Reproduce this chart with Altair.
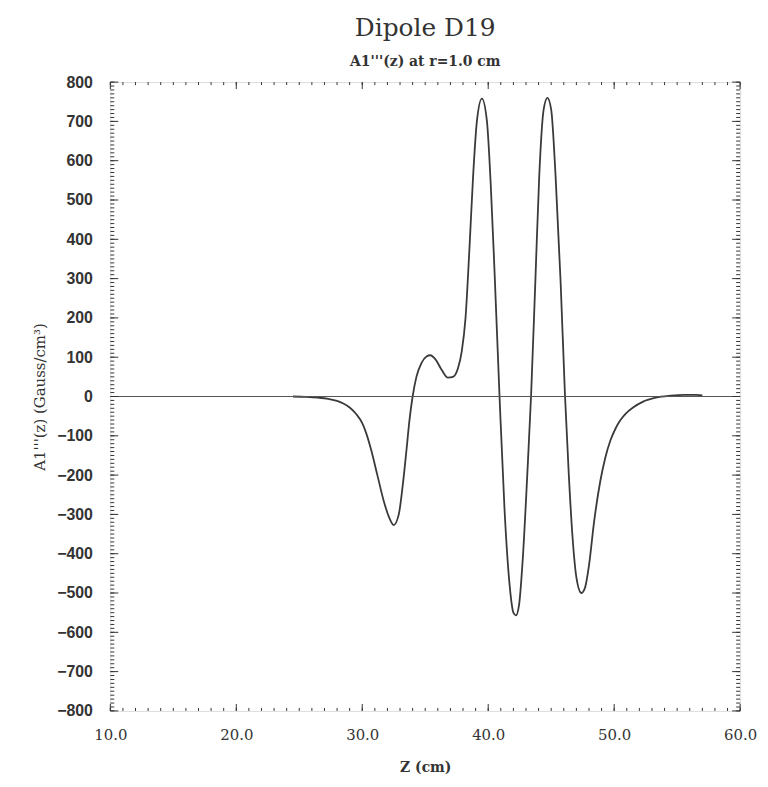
import altair as alt
import pandas as pd

# ---- data ----
z_cm = [24.5, 25.5, 26.5, 27.3, 28.0, 28.5, 29.0, 29.5, 30.0, 30.3, 30.7,
        31.2, 31.7, 32.1, 32.5, 32.9, 33.2, 33.5, 33.75, 34.0, 34.3, 34.7, 35.1, 35.4,
        35.8, 36.3, 36.8, 37.2, 37.6, 37.9, 38.2, 38.5, 38.8, 39.1, 39.5, 39.9, 40.2,
        40.5, 40.9, 41.3, 41.7, 42.0, 42.2, 42.45, 42.75, 43.1, 43.4, 43.75, 44.05,
        44.4, 44.7, 45.0, 45.35, 45.75, 46.1, 46.4, 46.7, 47.0, 47.4, 47.7, 48.0,
        48.4, 48.9, 49.3, 49.7, 50.1, 50.5, 50.9, 51.5, 52.3, 53.3, 54.5, 55.5,
        56.5, 57.0]
a1_val = [0, -1, -3, -6, -11, -18, -28, -44, -68, -92, -135,
          -200, -265, -305, -327, -300, -230, -140, -60, 0, 50, 85, 102, 105,
          95, 68, 48, 50, 72, 115, 200, 370, 560, 700, 758, 700, 540,
          320, 0, -290, -480, -550, -557, -530, -410, -200, 0, 300, 560,
          730, 760, 730, 560, 290, 0, -200, -360, -460, -500, -485, -430,
          -320, -215, -155, -112, -82, -60, -44, -28, -13, -3, 2, 4,
          4, 3]

x_major = [10, 20, 30, 40, 50, 60]
x_minor = list(range(10, 61))
y_major = list(range(-800, 801, 100))
y_minor = list(range(-800, 801, 10))
zero_line = [0]

W, H = 634, 633
ink = "#333333"
serif = "DejaVu Serif"

curve = pd.DataFrame({"z": z_cm, "a": a1_val})
xs = alt.Scale(domain=[10, 60], nice=False, zero=False)
ys = alt.Scale(domain=[-800, 800], nice=False)

x_axis = alt.Axis(
    title="Z (cm)", values=x_major, format=".1f", grid=False, ticks=False,
    tickSize=0, domain=False, labelFont=serif, labelFontSize=15,
    labelColor=ink, labelPadding=17, labelOverlap=False, labelFlush=False,
    titleFont=serif, titleFontSize=14,
    titleFontWeight="bold", titleColor=ink, titlePadding=18)
y_axis = alt.Axis(
    title="A1'''(z) (Gauss/cm³)", values=y_major, format="d", grid=False,
    ticks=False, tickSize=0, domain=False, labelFont="Liberation Sans",
    labelFontSize=16, labelFontWeight="bold", labelColor=ink, labelPadding=18,
    labelOverlap=False, labelFlush=False,
    titleFont=serif, titleFontSize=15, titleFontWeight="normal",
    titleColor=ink, titlePadding=9)

base_line = alt.Chart(curve).mark_line(
    color="#3a3a3a", strokeWidth=1.8, interpolate="monotone"
).encode(
    x=alt.X("z:Q", scale=xs, axis=x_axis),
    y=alt.Y("a:Q", scale=ys, axis=y_axis),
)

zero = alt.Chart(pd.DataFrame({"y0": zero_line})).mark_rule(
    color="#555555", strokeWidth=1
).encode(y=alt.Y("y0:Q", scale=ys, axis=y_axis), x=alt.value(0), x2=alt.value(W))

def xticks(vals, length, top):
    y1, y2 = (0, length) if top else (H, H - length)
    return alt.Chart(pd.DataFrame({"t": vals})).mark_rule(
        color=ink, strokeWidth=1
    ).encode(x=alt.X("t:Q", scale=xs, axis=x_axis), y=alt.value(y1), y2=alt.value(y2))

def yticks(vals, length, right):
    x1, x2 = (W, W - length) if right else (0, length)
    return alt.Chart(pd.DataFrame({"t": vals})).mark_rule(
        color=ink, strokeWidth=1
    ).encode(y=alt.Y("t:Q", scale=ys, axis=y_axis), x=alt.value(x1), x2=alt.value(x2))

chart = alt.layer(
    base_line,
    zero,
    xticks(x_minor, 3, False), xticks(x_major, 7, False),
    xticks(x_minor, 3, True), xticks(x_major, 7, True),
    yticks(y_minor, 4, False), yticks(y_major, 8, False),
    yticks(y_minor, 4, True), yticks(y_major, 8, True),
).properties(
    width=W, height=H,
    autosize=alt.AutoSizeParams(type="none"),
    padding={"left": 103, "top": 72, "right": 20, "bottom": 74},
    title=alt.TitleParams(
        text="Dipole D19", subtitle="A1'''(z) at r=1.0 cm",
        font=serif, fontSize=25, fontWeight="normal", color=ink,
        subtitleFont=serif, subtitleFontSize=14, subtitleFontWeight="bold",
        subtitleColor=ink, subtitlePadding=14, anchor="middle", frame="group",
        offset=5),
).configure_view(
    stroke=ink, strokeWidth=1.5
).configure_axisY(
    labelOverlap=False
).configure(background="white")

chart.save("out.html", embed_options={"renderer": "svg", "actions": False})
